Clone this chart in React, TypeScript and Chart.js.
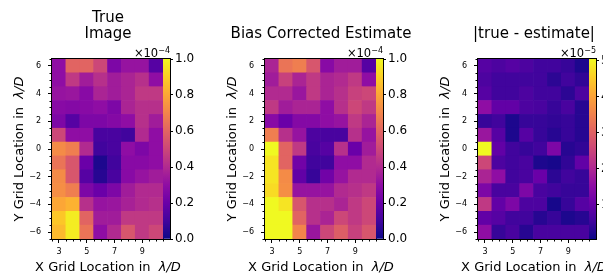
import React, { useEffect, useRef } from 'react';
import { Chart, registerables } from 'chart.js';

Chart.register(...registerables);

// ---------------- data ----------------
const xValues = [3, 4, 5, 6, 7, 8, 9, 10];
const yValues = [6, 5, 4, 3, 2, 1, 0, -1, -2, -3, -4, -5, -6];
const xTickValues = [3, 5, 7, 9];
const yTickValues = [-6, -4, -2, 0, 2, 4, 6];

// rows follow yValues (top to bottom), columns follow xValues; units of 1e-4
const trueImage = [
  [0.30, 0.60, 0.60, 0.50, 0.25, 0.32, 0.32, 0.15],
  [0.30, 0.45, 0.35, 0.42, 0.35, 0.38, 0.42, 0.30],
  [0.32, 0.33, 0.28, 0.38, 0.35, 0.38, 0.45, 0.45],
  [0.28, 0.27, 0.28, 0.30, 0.25, 0.38, 0.42, 0.42],
  [0.25, 0.15, 0.25, 0.25, 0.27, 0.30, 0.42, 0.35],
  [0.50, 0.30, 0.30, 0.12, 0.12, 0.10, 0.40, 0.30],
  [0.72, 0.68, 0.40, 0.10, 0.12, 0.30, 0.25, 0.30],
  [0.65, 0.55, 0.20, 0.03, 0.10, 0.28, 0.28, 0.30],
  [0.72, 0.55, 0.15, 0.05, 0.12, 0.28, 0.32, 0.35],
  [0.73, 0.68, 0.25, 0.20, 0.25, 0.35, 0.40, 0.40],
  [0.80, 0.83, 0.42, 0.32, 0.33, 0.37, 0.40, 0.42],
  [0.88, 0.97, 0.60, 0.35, 0.35, 0.45, 0.45, 0.45],
  [0.85, 0.97, 0.65, 0.30, 0.40, 0.55, 0.45, 0.50],
];

// units of 1e-4
const biasCorrected = [
  [0.38, 0.65, 0.68, 0.55, 0.28, 0.35, 0.35, 0.15],
  [0.35, 0.48, 0.38, 0.45, 0.38, 0.40, 0.45, 0.30],
  [0.40, 0.40, 0.33, 0.45, 0.38, 0.42, 0.48, 0.50],
  [0.45, 0.35, 0.38, 0.38, 0.30, 0.42, 0.50, 0.45],
  [0.28, 0.20, 0.27, 0.27, 0.30, 0.32, 0.45, 0.38],
  [0.68, 0.42, 0.32, 0.13, 0.12, 0.12, 0.42, 0.32],
  [1.00, 0.60, 0.45, 0.12, 0.15, 0.42, 0.20, 0.35],
  [0.95, 0.60, 0.22, 0.10, 0.10, 0.30, 0.30, 0.40],
  [0.95, 0.72, 0.18, 0.08, 0.22, 0.32, 0.40, 0.40],
  [0.93, 0.73, 0.32, 0.32, 0.32, 0.40, 0.42, 0.45],
  [1.00, 0.95, 0.55, 0.42, 0.42, 0.38, 0.45, 0.50],
  [1.00, 1.00, 0.60, 0.42, 0.38, 0.50, 0.45, 0.50],
  [1.00, 1.00, 0.70, 0.33, 0.50, 0.58, 0.48, 0.55],
];

// units of 1e-5
const absDifference = [
  [0.80, 0.70, 0.80, 0.70, 0.55, 0.55, 0.45, 0.20],
  [0.70, 0.55, 0.55, 0.55, 0.55, 0.35, 0.55, 0.40],
  [0.80, 0.55, 0.55, 0.70, 0.55, 0.55, 0.35, 0.70],
  [1.55, 0.95, 0.95, 0.70, 0.65, 0.45, 0.65, 0.30],
  [0.45, 0.55, 0.20, 0.45, 0.45, 0.40, 0.45, 0.30],
  [1.70, 0.80, 0.20, 0.80, 0.45, 0.30, 0.45, 0.30],
  [5.05, 0.95, 0.55, 0.45, 0.55, 1.30, 0.30, 0.40],
  [2.55, 0.70, 0.55, 0.65, 0.20, 0.15, 0.40, 0.95],
  [1.95, 1.55, 0.55, 0.65, 1.05, 0.35, 0.55, 0.45],
  [1.30, 0.65, 0.65, 1.30, 0.65, 0.55, 0.45, 0.45],
  [2.30, 0.95, 1.30, 0.70, 0.70, 0.15, 0.45, 0.80],
  [0.95, 0.80, 0.55, 0.55, 0.30, 0.45, 0.20, 0.30],
  [1.55, 0.45, 0.65, 0.30, 0.65, 0.65, 0.65, 0.65],
];

const colorbarTicksE4 = [0, 0.2, 0.4, 0.6, 0.8, 1.0];
const colorbarTicksE5 = [1, 2, 3, 4, 5];

// ---------------- styling ----------------
const FONT = "'DejaVu Sans', 'Noto Sans', sans-serif";
const PLASMA = ['#0d0887', '#41049d', '#6a00a8', '#8f0da4', '#b12a90', '#cc4778', '#e16462', '#f2844b', '#fca636', '#fcce25', '#f0f921'];

function hexToRgb(h: string) {
  const n = parseInt(h.slice(1), 16);
  return [(n >> 16) & 255, (n >> 8) & 255, n & 255];
}
function plasma(t: number) {
  const tt = Math.min(1, Math.max(0, t));
  const n = PLASMA.length - 1;
  const f = tt * n;
  const i = Math.min(n - 1, Math.floor(f));
  const u = f - i;
  const a = hexToRgb(PLASMA[i]);
  const b = hexToRgb(PLASMA[i + 1]);
  const c = a.map((v, k) => Math.round(v + (b[k] - v) * u));
  return `rgb(${c[0]},${c[1]},${c[2]})`;
}

const fmtTick = (v: number) => (v < 0 ? '\u2212' + Math.abs(v) : String(v));

const PLOT_TOP = 59;
const PLOT_H = 180;
const PLOT_W = 111;
const CB_W = 7;
const CANVAS_TOP = 40;
const CANVAS_H = 235;
const Y_AXIS_W = 52;

const decorPlugin = {
  id: 'decor',
  afterDraw(chart: any, _args: any, opts: any) {
    const { ctx, chartArea: a } = chart;
    ctx.save();
    ctx.strokeStyle = '#000';
    ctx.lineWidth = 1;
    if (opts && opts.minorX) {
      const xs = chart.scales.x;
      ctx.beginPath();
      for (const v of opts.minorX) {
        const px = Math.round(xs.getPixelForValue(v)) + 0.5;
        ctx.moveTo(px, a.bottom);
        ctx.lineTo(px, a.bottom + 2.5);
      }
      ctx.stroke();
    }
    if (opts && opts.minorY) {
      const ys = chart.scales.y;
      ctx.beginPath();
      for (const v of opts.minorY) {
        const py = Math.round(ys.getPixelForValue(v)) + 0.5;
        ctx.moveTo(a.left, py);
        ctx.lineTo(a.left - 2.5, py);
      }
      ctx.stroke();
    }
    ctx.strokeRect(a.left - 0.5, a.top - 0.5, a.right - a.left + 1, a.bottom - a.top + 1);
    ctx.restore();
  },
};

function minorList(lo: number, hi: number, step: number, majors: number[]) {
  const out: number[] = [];
  for (let v = lo; v <= hi + 1e-9; v += step) {
    if (!majors.some((m) => Math.abs(m - v) < 1e-9)) out.push(v);
  }
  return out;
}

function Heatmap({ values, vmin, vmax, plotLeft }: { values: number[][]; vmin: number; vmax: number; plotLeft: number }) {
  const ref = useRef<HTMLCanvasElement>(null);
  const width = Y_AXIS_W + PLOT_W + 2;
  useEffect(() => {
    const data: any[] = [];
    const colors: string[] = [];
    yValues.forEach((yv, r) => {
      xValues.forEach((xv, c) => {
        data.push({ x: xv, y: [yv - 0.5, yv + 0.5] });
        colors.push(plasma((values[r][c] - vmin) / (vmax - vmin)));
      });
    });
    const chart = new Chart(ref.current as HTMLCanvasElement, {
      type: 'bar',
      data: {
        datasets: [
          {
            data,
            backgroundColor: colors,
            borderWidth: 0,
            barPercentage: 1,
            categoryPercentage: 1,
          } as any,
        ],
      },
      options: {
        animation: false,
        responsive: false,
        events: [],
        layout: { padding: { top: PLOT_TOP - CANVAS_TOP, right: 2, left: 0, bottom: 0 } },
        plugins: {
          legend: { display: false },
          tooltip: { enabled: false },
          decor: {
            minorX: minorList(2.5, 10.5, 0.5, xTickValues),
            minorY: minorList(-6.5, 6.5, 0.5, yTickValues),
          },
        } as any,
        scales: {
          x: {
            type: 'linear',
            min: 2.5,
            max: 10.5,
            offset: false,
            afterBuildTicks: (s: any) => {
              s.ticks = xTickValues.map((v) => ({ value: v }));
            },
            afterFit: (s: any) => {
              s.height = CANVAS_TOP + CANVAS_H - (PLOT_TOP + PLOT_H);
            },
            grid: { drawOnChartArea: false, drawTicks: true, tickLength: 4, tickColor: '#000', tickWidth: 1, offset: false },
            border: { display: false },
            ticks: {
              color: '#000',
              font: { family: FONT, size: 8 },
              padding: 4,
              maxRotation: 0,
              autoSkip: false,
              callback: (v: any) => fmtTick(Number(v)),
            },
          },
          y: {
            type: 'linear',
            min: -6.5,
            max: 6.5,
            afterBuildTicks: (s: any) => {
              s.ticks = yTickValues.map((v) => ({ value: v }));
            },
            afterFit: (s: any) => {
              s.width = Y_AXIS_W;
            },
            grid: { drawOnChartArea: false, drawTicks: true, tickLength: 4, tickColor: '#000', tickWidth: 1 },
            border: { display: false },
            ticks: {
              color: '#000',
              font: { family: FONT, size: 8 },
              padding: 7,
              autoSkip: false,
              callback: (v: any) => fmtTick(Number(v)),
            },
          },
        } as any,
      },
      plugins: [decorPlugin as any],
    });
    return () => chart.destroy();
  }, []);
  return (
    <canvas
      ref={ref}
      width={width}
      height={CANVAS_H}
      style={{ position: 'absolute', left: plotLeft - Y_AXIS_W, top: CANVAS_TOP, width, height: CANVAS_H }}
    />
  );
}

function Colorbar({ vmin, vmax, ticks, decimals, left }: { vmin: number; vmax: number; ticks: number[]; decimals: number; left: number }) {
  const ref = useRef<HTMLCanvasElement>(null);
  const width = 45;
  useEffect(() => {
    const chart = new Chart(ref.current as HTMLCanvasElement, {
      type: 'bar',
      data: {
        labels: [''],
        datasets: [
          {
            data: [[vmin, vmax]],
            backgroundColor: (ctx: any) => {
              const a = ctx.chart.chartArea;
              if (!a) return PLASMA[0];
              const g = ctx.chart.ctx.createLinearGradient(0, a.bottom, 0, a.top);
              PLASMA.forEach((c, i) => g.addColorStop(i / (PLASMA.length - 1), c));
              return g;
            },
            borderWidth: 0,
            barPercentage: 1,
            categoryPercentage: 1,
          } as any,
        ],
      },
      options: {
        animation: false,
        responsive: false,
        events: [],
        layout: { padding: { top: PLOT_TOP - CANVAS_TOP, bottom: CANVAS_TOP + CANVAS_H - (PLOT_TOP + PLOT_H), left: 0, right: 0 } },
        plugins: { legend: { display: false }, tooltip: { enabled: false }, decor: {} } as any,
        scales: {
          x: { display: false },
          y: {
            type: 'linear',
            position: 'right',
            min: vmin,
            max: vmax,
            afterBuildTicks: (s: any) => {
              s.ticks = ticks.map((v) => ({ value: v }));
            },
            afterFit: (s: any) => {
              s.width = width - CB_W;
            },
            grid: { drawOnChartArea: false, drawTicks: true, tickLength: 3, tickColor: '#000', tickWidth: 1 },
            border: { display: false },
            ticks: {
              color: '#000',
              font: { family: FONT, size: 12 },
              padding: 2,
              autoSkip: false,
              callback: (v: any) => Number(v).toFixed(decimals),
            },
          },
        } as any,
      },
      plugins: [decorPlugin as any],
    });
    return () => chart.destroy();
  }, []);
  return (
    <canvas
      ref={ref}
      width={width}
      height={CANVAS_H}
      style={{ position: 'absolute', left, top: CANVAS_TOP, width, height: CANVAS_H }}
    />
  );
}

const panels = [
  { title: ['True', 'Image'], values: trueImage, vmin: 0, vmax: 1, ticks: colorbarTicksE4, decimals: 1, exponent: '4', plotLeft: 52 },
  { title: ['Bias Corrected Estimate'], values: biasCorrected, vmin: 0, vmax: 1, ticks: colorbarTicksE4, decimals: 1, exponent: '4', plotLeft: 265 },
  { title: ['|true - estimate|'], values: absDifference, vmin: 0.05, vmax: 5.05, ticks: colorbarTicksE5, decimals: 0, exponent: '5', plotLeft: 478 },
];

export default function App() {
  return (
    <div
      style={{
        position: 'fixed',
        left: 0,
        top: 0,
        width: 603,
        height: 275,
        overflow: 'hidden',
        background: '#fff',
        fontFamily: FONT,
        color: '#000',
      }}
    >
      {panels.map((p, i) => {
        const cx = p.plotLeft + PLOT_W / 2;
        const plotRight = p.plotLeft + PLOT_W;
        const titleTop = p.title.length === 2 ? 9 : 25;
        const ycx = p.plotLeft - 33;
        return (
          <React.Fragment key={i}>
            <Heatmap values={p.values} vmin={p.vmin} vmax={p.vmax} plotLeft={p.plotLeft} />
            <Colorbar vmin={p.vmin} vmax={p.vmax} ticks={p.ticks} decimals={p.decimals} left={plotRight} />
            <div
              style={{
                position: 'absolute',
                left: Math.round(cx) - 120,
                width: 240,
                top: titleTop,
                textAlign: 'center',
                fontSize: 15,
                lineHeight: '16px',
                whiteSpace: 'nowrap',
              }}
            >
              {p.title.map((t, k) => (
                <div key={k}>{t}</div>
              ))}
            </div>
            <div
              style={{
                position: 'absolute',
                left: plotRight + CB_W - 80,
                width: 80,
                top: 47,
                textAlign: 'right',
                fontSize: 11.5,
                lineHeight: '12px',
                whiteSpace: 'nowrap',
              }}
            >
              {'\u00d710'}
              <span style={{ position: 'relative', top: -4, fontSize: 8 }}>{'\u2212' + p.exponent}</span>
            </div>
            <div
              style={{
                position: 'absolute',
                left: Math.round(cx) - 110,
                width: 220,
                top: 260,
                textAlign: 'center',
                fontSize: 13,
                lineHeight: '13px',
                whiteSpace: 'nowrap',
              }}
            >
              X Grid Location in{'\u00a0\u00a0'}
              <i>{'\u03bb/D'}</i>
            </div>
            <div
              style={{
                position: 'absolute',
                left: ycx - 110,
                width: 220,
                top: PLOT_TOP + PLOT_H / 2 - 7,
                height: 14,
                textAlign: 'center',
                fontSize: 13,
                lineHeight: '14px',
                whiteSpace: 'nowrap',
                transform: 'rotate(-90deg)',
              }}
            >
              Y Grid Location in{'\u00a0\u00a0'}
              <i>{'\u03bb/D'}</i>
            </div>
          </React.Fragment>
        );
      })}
    </div>
  );
}
